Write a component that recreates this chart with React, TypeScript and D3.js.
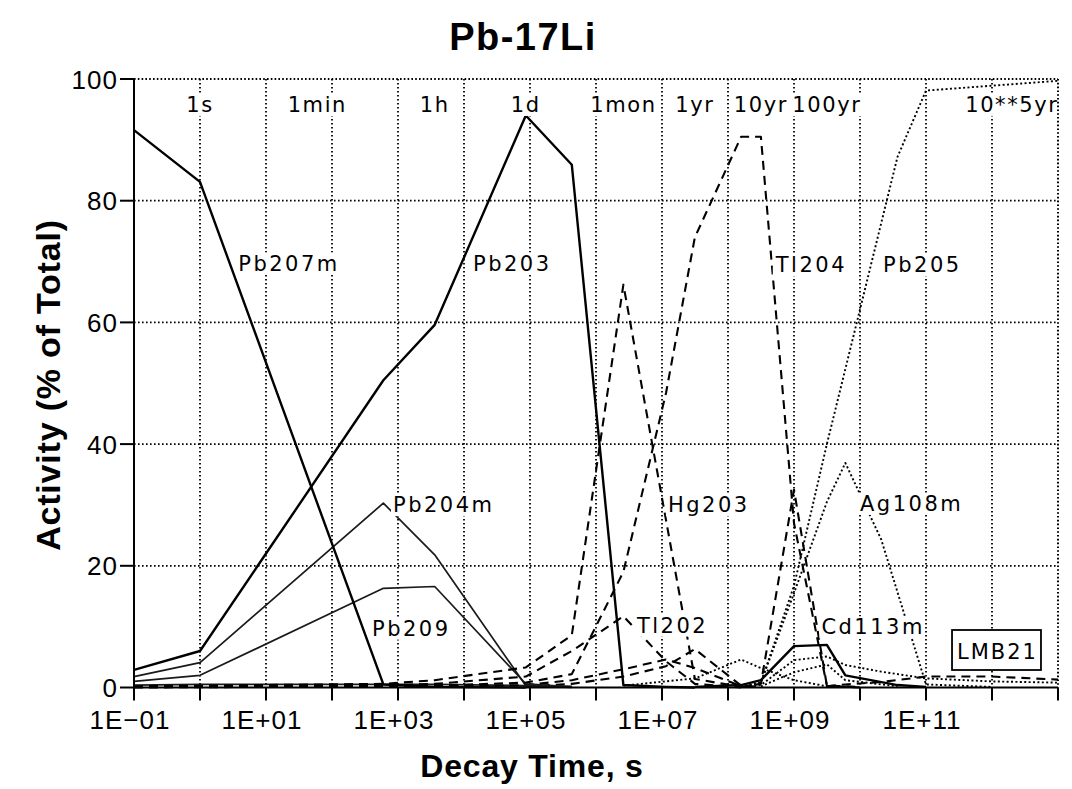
import React, { useEffect, useRef } from "react";
import * as d3 from "d3";

const W = 1072;
const H = 789;
const PLOT = { left: 134, right: 1058, top: 79, bottom: 687.5 };

// ---- data (time in seconds, activity in % of total) ----
const pb207m: [number, number][] = [[0.1, 91.6], [1, 83.1], [600, 0.5], [3600, 0.1], [86400, 0]];
const pb203: [number, number][] = [[0.1, 2.9], [1, 6.0], [600, 50.5], [3600, 59.6], [86400, 94.0], [4.3e5, 85.9], [2.6e6, 0.4], [1.15e7, 0.1], [3.15e7, 0]];
const pb204m: [number, number][] = [[0.1, 1.8], [1, 4.1], [600, 30.3], [3600, 21.8], [86400, 0.3], [4.3e5, 0]];
const pb209: [number, number][] = [[0.1, 1.0], [1, 2.0], [600, 16.3], [3600, 16.6], [86400, 0.6], [4.3e5, 0.1]];
const minorSolid: [number, number][] = [[0.1, 0.4], [1, 0.5], [600, 0.5], [3600, 0.5], [86400, 0.3], [4.3e5, 0.2]];
const hg203: [number, number][] = [[0.1, 0.2], [1, 0.3], [600, 0.6], [3600, 1.2], [86400, 3.3], [4.3e5, 8.6], [2.6e6, 66.2], [1.15e7, 27.5], [3.15e7, 1.4], [1.58e8, 0.1]];
const tl202: [number, number][] = [[0.1, 0.1], [1, 0.1], [600, 0.3], [3600, 0.6], [86400, 1.8], [4.3e5, 6.0], [2.6e6, 11.7], [1.15e7, 4.3], [3.15e7, 0.6], [1.58e8, 0]];
const tl204: [number, number][] = [[0.1, 0], [1, 0.05], [600, 0.2], [3600, 0.3], [86400, 0.8], [4.3e5, 2.2], [2.6e6, 19.0], [1.15e7, 48.4], [3.15e7, 74.0], [1.58e8, 90.5], [3.15e8, 90.5], [1e9, 27.0], [3.15e9, 0.3], [1e10, 0]];
const cd113m: [number, number][] = [[1.58e8, 0.1], [3.15e8, 0.6], [1e9, 32.5], [3.15e9, 0.3], [1e10, 0.1]];
const plateauSolid: [number, number][] = [[3.15e7, 0.1], [1.58e8, 0.4], [3.15e8, 1.2], [1e9, 6.8], [3.15e9, 7.0], [6e9, 2.0], [3.7e10, 0.4], [1e11, 0.1]];
const ag108m: [number, number][] = [[1.58e8, 0.1], [3.15e8, 0.8], [1e9, 15.5], [3.15e9, 30.5], [6e9, 36.9], [2.1e10, 24.3], [1e11, 0.5], [1e12, 0.1]];
const pb205: [number, number][] = [[1.58e8, 0.1], [3.15e8, 0.8], [1e9, 16.7], [3.15e9, 40.0], [3.7e10, 87.2], [1e11, 98.1], [1e12, 98.9], [1e13, 99.7]];
const dottedA: [number, number][] = [[1.58e8, 0.1], [3.15e8, 0.4], [1e9, 4.5], [3.15e9, 5.1], [6e9, 3.7], [2.1e10, 2.6], [1e11, 1.5], [1e12, 1.0], [1e13, 0.8]];
const dashedB: [number, number][] = [[3.15e9, 0.2], [6e9, 0.5], [2.1e10, 0.9], [1e11, 1.8], [1e12, 1.8], [1e13, 1.3]];
const dottedC: [number, number][] = [[3.15e8, 0.2], [1e9, 2.5], [3.15e9, 3.8], [6e9, 1.2], [3.7e10, 0.2]];
const dashedD: [number, number][] = [[86400, 0.2], [4.3e5, 0.6], [2.6e6, 1.8], [1.15e7, 3.5], [3.15e7, 6.3], [1.58e8, 0.3], [3.15e8, 0.1]];
const dashedE: [number, number][] = [[3600, 0.1], [86400, 0.4], [4.3e5, 1.2], [2.6e6, 3.0], [1.15e7, 4.6], [3.15e7, 3.2], [1.58e8, 0.2]];
const dottedF: [number, number][] = [[2.6e6, 0.3], [3.15e7, 1.5], [1.58e8, 4.6], [3.15e8, 3.2], [1e9, 1.2], [3.15e9, 0.2]];

const timeMarkLabels = ["1s", "1min", "1h", "1d", "1mon", "1yr", "10yr", "100yr", "10**5yr"];
const timeMarkSeconds = [1, 60, 3600, 86400, 2.6e6, 3.15e7, 3.15e8, 3.15e9, 2.0e12];

const xTickExponents = [-1, 0, 1, 2, 3, 4, 5, 6, 7, 8, 9, 10, 11, 12, 13];
const xLabelExponents = [-1, 1, 3, 5, 7, 9, 11];
const yTicks = [0, 20, 40, 60, 80, 100];

const seriesLabels = ["Pb207m", "Pb203", "Tl204", "Pb205", "Pb204m", "Hg203", "Ag108m", "Pb209", "Tl202", "Cd113m"];
const seriesLabelAt: [number, number][] = [
  [3.8, 70], [1.37e4, 70], [5.3e8, 69.7], [2.24e10, 69.7],
  [840, 30.3], [1.23e7, 30.3], [1.0e10, 30.5], [404, 10.0], [4.17e6, 10.5], [2.6e9, 10.2],
];

type Style = "solid" | "thin" | "dashed" | "dotted";
const seriesList: { pts: [number, number][]; style: Style }[] = [
  { pts: minorSolid, style: "thin" },
  { pts: dottedA, style: "dotted" },
  { pts: dottedC, style: "dotted" },
  { pts: dottedF, style: "dotted" },
  { pts: dashedB, style: "dashed" },
  { pts: dashedD, style: "dashed" },
  { pts: dashedE, style: "dashed" },
  { pts: pb204m, style: "thin" },
  { pts: pb209, style: "thin" },
  { pts: hg203, style: "dashed" },
  { pts: tl202, style: "dashed" },
  { pts: tl204, style: "dashed" },
  { pts: cd113m, style: "dashed" },
  { pts: plateauSolid, style: "solid" },
  { pts: ag108m, style: "dotted" },
  { pts: pb205, style: "dotted" },
  { pts: pb203, style: "solid" },
  { pts: pb207m, style: "solid" },
];

function expLabel(e: number) {
  const sign = e < 0 ? "\u2212" : "+";
  const a = Math.abs(e);
  return "1E" + sign + (a < 10 ? "0" + a : "" + a);
}

export default function App() {
  const ref = useRef<SVGSVGElement>(null);

  useEffect(() => {
    document.body.style.margin = "0";
    const svg = d3.select(ref.current!);
    svg.selectAll("*").remove();

    const x = d3.scaleLog().domain([0.1, 1e13]).range([PLOT.left, PLOT.right]);
    const y = d3.scaleLinear().domain([0, 100]).range([PLOT.bottom, PLOT.top]);

    svg.append("rect").attr("width", W).attr("height", H).attr("fill", "#fff");

    const grid = svg.append("g").attr("stroke", "#000").attr("stroke-width", 1.8).attr("stroke-dasharray", "1.6,2.4");
    xTickExponents.filter((e) => e >= 0 && e < 13).forEach((e) => {
      grid.append("line").attr("x1", x(Math.pow(10, e))).attr("x2", x(Math.pow(10, e)))
        .attr("y1", PLOT.top).attr("y2", PLOT.bottom);
    });
    yTicks.filter((v) => v > 0 && v < 100).forEach((v) => {
      grid.append("line").attr("x1", PLOT.left).attr("x2", PLOT.right).attr("y1", y(v)).attr("y2", y(v));
    });

    const line = d3.line<[number, number]>().x((d) => x(d[0])).y((d) => y(d[1]));
    const g = svg.append("g").attr("fill", "none").attr("stroke", "#000").attr("stroke-linejoin", "round");
    seriesList.forEach((s) => {
      const p = g.append("path").attr("d", line(s.pts)!);
      if (s.style === "solid") p.attr("stroke-width", 2.4);
      if (s.style === "thin") p.attr("stroke-width", 1.7).attr("stroke", "#1a1a1a");
      if (s.style === "dashed") p.attr("stroke-width", 2.1).attr("stroke-dasharray", "9,6");
      if (s.style === "dotted") p.attr("stroke-width", 1.9).attr("stroke-dasharray", "2,2.4");
    });

    const labelFont = "'DejaVu Sans', sans-serif";
    const addBoxedText = (tx: number, ty: number, text: string, anchor: string, ls: number) => {
      const lg = svg.append("g");
      const t = lg.append("text").attr("x", tx).attr("y", ty).attr("text-anchor", anchor)
        .attr("font-family", labelFont).attr("font-size", 21).attr("letter-spacing", ls)
        .attr("fill", "#000").text(text);
      const bb = (t.node() as SVGTextElement).getBBox();
      lg.insert("rect", "text").attr("x", bb.x - 2).attr("y", bb.y + 1).attr("width", bb.width + 2)
        .attr("height", bb.height - 2).attr("fill", "#fff");
    };

    timeMarkLabels.forEach((lab, i) => addBoxedText(x(timeMarkSeconds[i]), 112, lab, "middle", 1.6));
    seriesLabels.forEach((lab, i) => addBoxedText(x(seriesLabelAt[i][0]), y(seriesLabelAt[i][1]) + 9, lab, "start", 2.5));

    // LMB21 box
    const bx = svg.append("g");
    const bt = bx.append("text").attr("x", x(1.17e12) + 1).attr("y", 659).attr("text-anchor", "middle")
      .attr("font-family", labelFont).attr("font-size", 21).attr("letter-spacing", 2).text("LMB21");
    const bbb = (bt.node() as SVGTextElement).getBBox();
    bx.insert("rect", "text").attr("x", bbb.x - 5).attr("y", 630).attr("width", bbb.width + 8).attr("height", 40)
      .attr("fill", "#fff").attr("stroke", "#000").attr("stroke-width", 1.8);

    // borders
    const border = svg.append("g").attr("stroke", "#000").attr("stroke-width", 2).attr("stroke-dasharray", "1.6,2.2");
    border.append("line").attr("x1", PLOT.left).attr("x2", PLOT.right).attr("y1", PLOT.top).attr("y2", PLOT.top);
    border.append("line").attr("x1", PLOT.right).attr("x2", PLOT.right).attr("y1", PLOT.top).attr("y2", PLOT.bottom);

    const axes = svg.append("g").attr("stroke", "#000").attr("stroke-width", 2);
    axes.append("line").attr("x1", PLOT.left).attr("x2", PLOT.left).attr("y1", PLOT.top).attr("y2", PLOT.bottom);
    axes.append("line").attr("x1", PLOT.left).attr("x2", PLOT.right).attr("y1", PLOT.bottom).attr("y2", PLOT.bottom);
    xTickExponents.forEach((e) => {
      axes.append("line").attr("x1", x(Math.pow(10, e))).attr("x2", x(Math.pow(10, e)))
        .attr("y1", PLOT.bottom).attr("y2", PLOT.bottom + 13);
    });
    yTicks.forEach((v) => {
      axes.append("line").attr("x1", PLOT.left - 14).attr("x2", PLOT.left).attr("y1", y(v)).attr("y2", y(v));
    });

    const tickFont = "'Liberation Sans', Arial, sans-serif";
    xLabelExponents.forEach((e) => {
      svg.append("text").attr("x", x(Math.pow(10, e)) - 4).attr("y", 729).attr("text-anchor", "middle")
        .attr("font-family", tickFont).attr("font-size", 26).attr("letter-spacing", 1).text(expLabel(e));
    });
    yTicks.forEach((v) => {
      svg.append("text").attr("x", 118).attr("y", y(v) + 9.5).attr("text-anchor", "end")
        .attr("font-family", tickFont).attr("font-size", 26).attr("letter-spacing", 1).text(String(v));
    });

    svg.append("text").attr("x", 523).attr("y", 50).attr("text-anchor", "middle")
      .attr("font-family", tickFont).attr("font-weight", "bold").attr("font-size", 38)
      .attr("letter-spacing", 1.5).text("Pb-17Li");
    svg.append("text").attr("x", 532).attr("y", 777).attr("text-anchor", "middle")
      .attr("font-family", tickFont).attr("font-weight", "bold").attr("font-size", 32)
      .attr("letter-spacing", 0.8).text("Decay Time, s");
    svg.append("text").attr("transform", "translate(60,385) rotate(-90)").attr("text-anchor", "middle")
      .attr("font-family", tickFont).attr("font-weight", "bold").attr("font-size", 34)
      .attr("letter-spacing", 0.8).text("Activity (% of Total)");
  }, []);

  return <svg ref={ref} width={W} height={H} style={{ display: "block" }} />;
}
